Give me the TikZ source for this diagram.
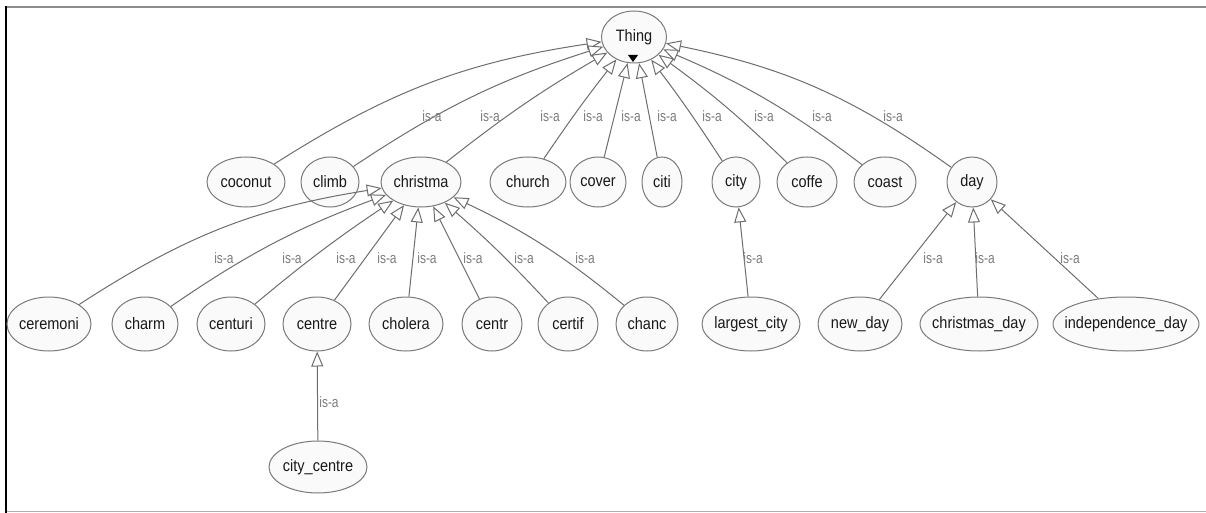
\documentclass[tikz,border=0pt]{standalone}
\usepackage{fontspec}
\setmainfont{Liberation Sans}
\newfontfamily\nodefamily{Liberation Sans}[FakeStretch=0.88]
\newfontfamily\labelfamily{Liberation Sans}[FakeStretch=0.8]
\usetikzlibrary{shapes.geometric,arrows.meta}
\definecolor{edgegray}{HTML}{6E6E6E}
\definecolor{nodegray}{HTML}{7A7A7A}
\definecolor{nodefill}{HTML}{FAFAFA}
\definecolor{labelgray}{HTML}{7C7C7C}
\definecolor{framegray}{HTML}{8C8C8C}
\newcommand\conceptfont{\nodefamily\fontsize{16.5}{18}\selectfont}
\newcommand\isafont{\labelfamily\fontsize{15}{16}\selectfont}
% the ellipse size is given explicitly, so the name takes no width of its own
\newcommand\cname[1]{\makebox[0pt]{#1}}
\tikzset{
  concept/.style={ellipse, draw=nodegray, fill=nodefill, line width=1pt,
    inner sep=0pt, text=black!90, font=\conceptfont},
  lvlone/.style={concept, minimum height=50pt},
  lvltwo/.style={concept, minimum height=54pt},
  isa/.style={text=labelgray, font=\isafont, inner sep=0pt},
  isaedge/.style={draw=edgegray, line width=1pt,
    -{Triangle[fill=white, length=15pt, width=12pt, line width=1pt]}},
}
\begin{document}
\begin{tikzpicture}[x=1pt, y=-1pt]
  \useasboundingbox (0,0) rectangle (1206,513);
  \fill[white] (0,0) rectangle (1206,513);
  % frame
  \draw[framegray, line width=2pt] (6,7) -- (1206,7);
  \draw[framegray!70, line width=1.5pt] (6,511.5) -- (1206,511.5);
  \draw[black, line width=2pt] (6,6) -- (6,513);

  % root
  \node[concept, minimum width=65pt, minimum height=52pt] (thing) at (634,37) {\cname{Thing}};
  \fill[black] (628,55) -- (638,55) -- (633,62) -- cycle;

  % first level
  \node[lvlone, minimum width=78pt] (coconut)  at (246,182) {\cname{coconut}};
  \node[lvlone, minimum width=58pt] (climb)    at (330,182) {\cname{climb}};
  \node[lvlone, minimum width=80pt] (christma) at (421,182) {\cname{christma}};
  \node[lvlone, minimum width=76pt] (church)   at (528,182) {\cname{church}};
  \node[lvlone, minimum width=56pt] (cover)    at (598,182) {\cname{cover}};
  \node[lvlone, minimum width=40pt] (citi)     at (662,182) {\cname{citi}};
  \node[lvlone, minimum width=48pt] (city)     at (736,182) {\cname{city}};
  \node[lvlone, minimum width=60pt] (coffe)    at (807,182) {\cname{coffe}};
  \node[lvlone, minimum width=62pt] (coast)    at (885,182) {\cname{coast}};
  \node[lvlone, minimum width=50pt] (day)      at (972,182) {\cname{day}};

  % second level
  \node[lvltwo, minimum width=84pt]  (ceremoni)  at (49,324)   {\cname{ceremoni}};
  \node[lvltwo, minimum width=66pt]  (charm)     at (145,324)  {\cname{charm}};
  \node[lvltwo, minimum width=68pt]  (centuri)   at (231,324)  {\cname{centuri}};
  \node[lvltwo, minimum width=68pt]  (centre)    at (317,324)  {\cname{centre}};
  \node[lvltwo, minimum width=74pt]  (cholera)   at (406,324)  {\cname{cholera}};
  \node[lvltwo, minimum width=60pt]  (centr)     at (492,324)  {\cname{centr}};
  \node[lvltwo, minimum width=60pt]  (certif)    at (568,324)  {\cname{certif}};
  \node[lvltwo, minimum width=62pt]  (chanc)     at (647,324)  {\cname{chanc}};
  \node[lvltwo, minimum width=98pt]  (largest)   at (751,324)  {\cname{largest\_city}};
  \node[lvltwo, minimum width=84pt]  (newday)    at (860,324)  {\cname{new\_day}};
  \node[lvltwo, minimum width=118pt] (xmasday)   at (979,324)  {\cname{christmas\_day}};
  \node[lvltwo, minimum width=146pt] (indepday)  at (1126,324) {\cname{independence\_day}};

  % third level
  \node[concept, minimum width=98pt, minimum height=52pt] (citycentre) at (318,467) {\cname{city\_centre}};

  % is-a links to the root
  \draw[isaedge] (coconut)  to[bend left=12] (thing);
  \draw[isaedge] (climb)    to[bend left=8]  (thing);
  \draw[isaedge] (christma) to[bend left=4]  (thing);
  \draw[isaedge] (church)   to[bend left=2]  (thing);
  \draw[isaedge] (cover)    to (thing);
  \draw[isaedge] (citi)     to (thing);
  \draw[isaedge] (city)     to[bend right=2] (thing);
  \draw[isaedge] (coffe)    to[bend right=4] (thing);
  \draw[isaedge] (coast)    to[bend right=7] (thing);
  \draw[isaedge] (day)      to[bend right=12] (thing);

  % is-a links to christma
  \draw[isaedge] (ceremoni) to[bend left=12] (christma);
  \draw[isaedge] (charm)    to[bend left=7]  (christma);
  \draw[isaedge] (centuri)  to[bend left=3]  (christma);
  \draw[isaedge] (centre)   to (christma);
  \draw[isaedge] (cholera)  to (christma);
  \draw[isaedge] (centr)    to (christma);
  \draw[isaedge] (certif)   to[bend right=3] (christma);
  \draw[isaedge] (chanc)    to[bend right=7] (christma);

  % remaining is-a links
  \draw[isaedge] (largest)    to (city);
  \draw[isaedge] (newday)     to (day);
  \draw[isaedge] (xmasday)    to (day);
  \draw[isaedge] (indepday)   to (day);
  \draw[isaedge] (citycentre) to (centre);

  % link labels
  \node[isa] (l-coconut)  at (432,116) {is-a};
  \node[isa] (l-climb)    at (490,116) {is-a};
  \node[isa] (l-christma) at (550,116) {is-a};
  \node[isa] (l-church)   at (593,116) {is-a};
  \node[isa] (l-cover)    at (631,116) {is-a};
  \node[isa] (l-citi)     at (667,116) {is-a};
  \node[isa] (l-city)     at (712,116) {is-a};
  \node[isa] (l-coffe)    at (764,116) {is-a};
  \node[isa] (l-coast)    at (822,116) {is-a};
  \node[isa] (l-day)      at (893,116) {is-a};

  \node[isa] (l-ceremoni) at (224,258) {is-a};
  \node[isa] (l-charm)    at (292,258) {is-a};
  \node[isa] (l-centuri)  at (346,258) {is-a};
  \node[isa] (l-centre)   at (387,258) {is-a};
  \node[isa] (l-cholera)  at (427,258) {is-a};
  \node[isa] (l-centr)    at (473,258) {is-a};
  \node[isa] (l-certif)   at (524,258) {is-a};
  \node[isa] (l-chanc)    at (585,258) {is-a};
  \node[isa] (l-largest)  at (753,258) {is-a};
  \node[isa] (l-newday)   at (933,258) {is-a};
  \node[isa] (l-xmasday)  at (985,258) {is-a};
  \node[isa] (l-indepday) at (1070,258) {is-a};
  \node[isa] (l-citycentre) at (329,402) {is-a};
\end{tikzpicture}
\end{document}
